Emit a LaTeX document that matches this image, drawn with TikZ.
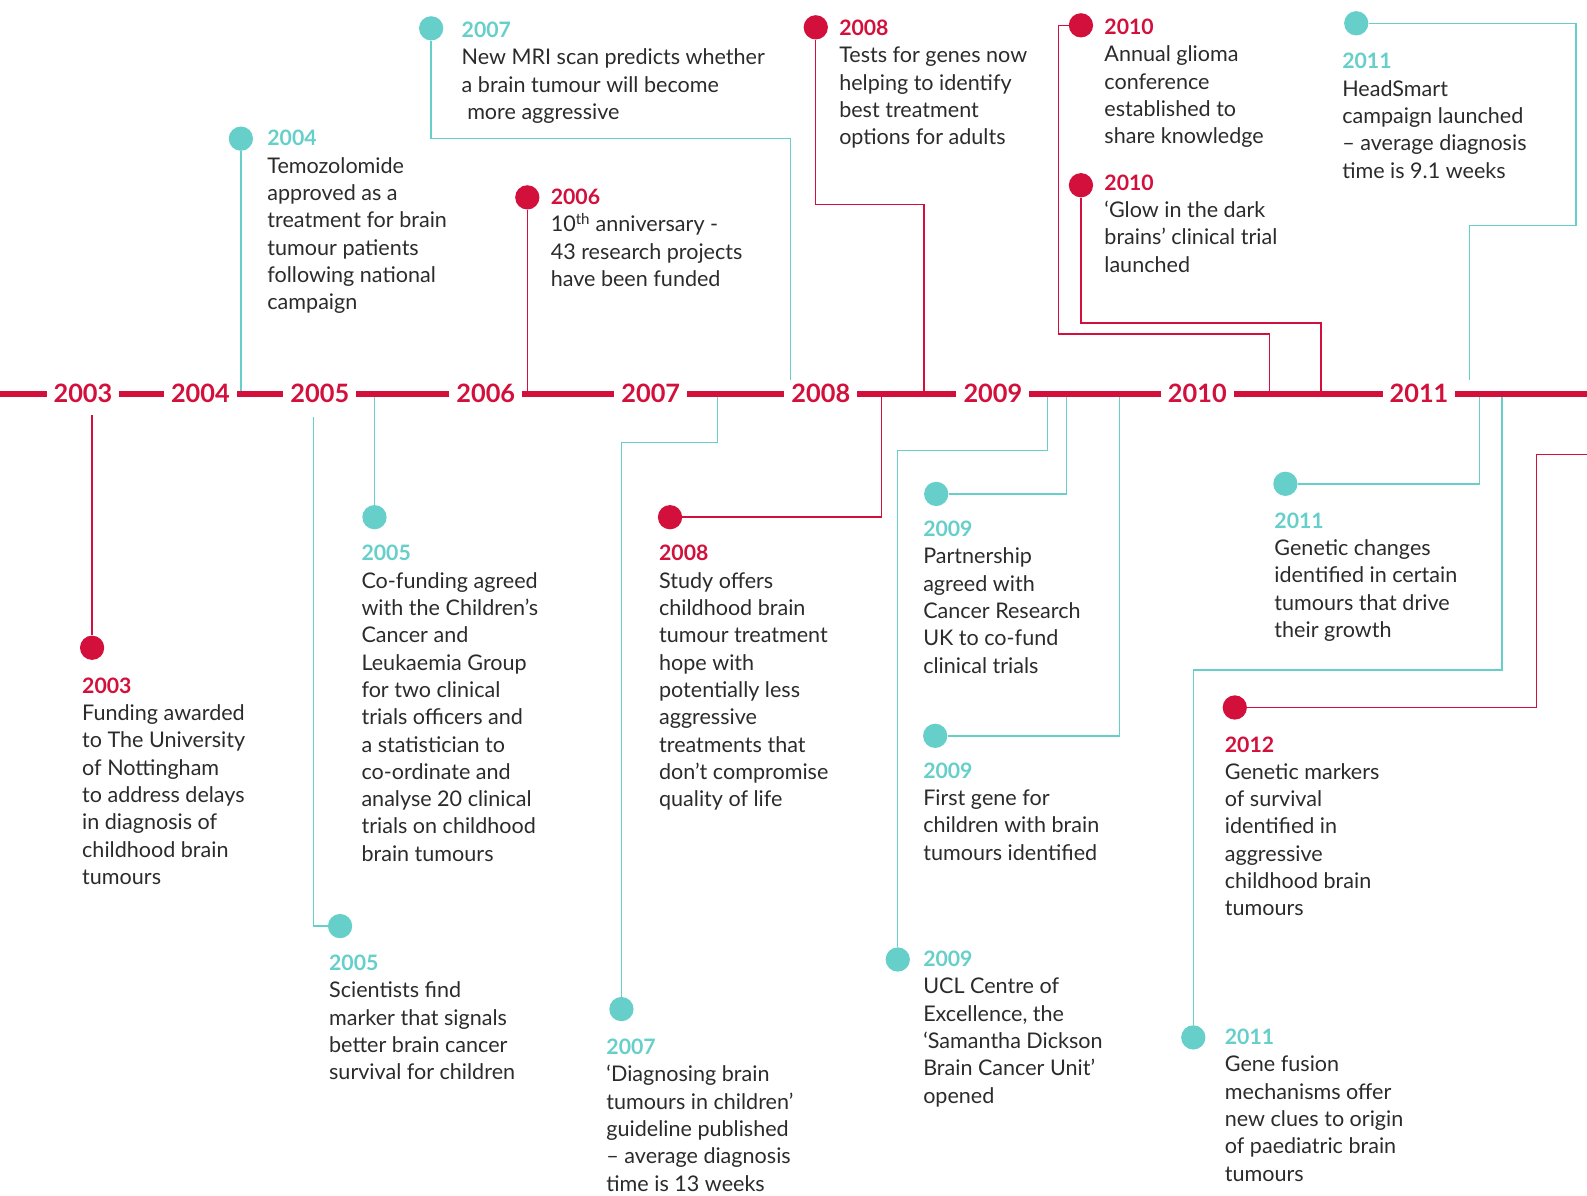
\documentclass[tikz,border=0pt]{standalone}
\usepackage{fontspec}
\setmainfont{Lato}
\definecolor{tred}{HTML}{D2103B}
\definecolor{tteal}{HTML}{66CFCA}
\definecolor{tgrey}{HTML}{2B2B2B}
\newcommand{\evtext}[3]{\parbox[t]{380pt}{\raggedright\textcolor{#1}{\bfseries\fontsize{21}{27}\selectfont #2}\\#3}}

\begin{document}
\begin{tikzpicture}[x=1pt,y=-1pt,
    axis/.style={draw=tred, line width=5.5pt},
    axyear/.style={fill=white, text=tred, font=\fontsize{25}{30}\selectfont\bfseries, inner xsep=7pt, inner ysep=1pt},
    dotred/.style={circle, fill=tred, minimum size=24pt, inner sep=0pt},
    dotteal/.style={circle, fill=tteal, minimum size=24pt, inner sep=0pt},
    linkred/.style={draw=tred, line width=1.4pt},
    linkteal/.style={draw=tteal, line width=1.4pt},
    evt/.style={anchor=base west, inner sep=0pt, text=tgrey, font=\fontsize{21.3}{27}\selectfont}]

    \useasboundingbox (0,0) rectangle (1568,1181);

    % events below the line
    \node[dotred] (m2003) at (91,640) {};
    \node[evt] (t2003) at (81,685) {\evtext{tred}{2003}{Funding awarded\\to The University\\of Nottingham\\to address delays\\in diagnosis of\\childhood brain\\tumours}};
    \node[dotteal] (m2005a) at (370,511) {};
    \node[evt] (t2005a) at (357,554) {\evtext{tteal}{2005}{Co-funding agreed\\with the Children’s\\Cancer and\\Leukaemia Group\\for two clinical\\trials officers and\\a statistician to\\co-ordinate and\\analyse 20 clinical\\trials on childhood\\brain tumours}};
    \node[dotteal] (m2005b) at (336,915) {};
    \node[evt] (t2005b) at (325,959) {\evtext{tteal}{2005}{Scientists find\\marker that signals\\better brain cancer\\survival for children}};
    \node[dotteal] (m2007b) at (614,997) {};
    \node[evt] (t2007b) at (599,1042) {\evtext{tteal}{2007}{‘Diagnosing brain\\tumours in children’\\guideline published\\– average diagnosis\\time is 13 weeks}};
    \node[dotred] (m2008b) at (662,511) {};
    \node[evt] (t2008b) at (651,554) {\evtext{tred}{2008}{Study offers\\childhood brain\\tumour treatment\\hope with\\potentially less\\aggressive\\treatments that\\don’t compromise\\quality of life}};
    \node[dotteal] (m2009p) at (925,488) {};
    \node[evt] (t2009p) at (912,530) {\evtext{tteal}{2009}{Partnership\\agreed with\\Cancer Research\\UK to co-fund\\clinical trials}};
    \node[dotteal] (m2009g) at (924,727) {};
    \node[evt] (t2009g) at (912,769) {\evtext{tteal}{2009}{First gene for\\children with brain\\tumours identified}};
    \node[dotteal] (m2009u) at (887,948) {};
    \node[evt] (t2009u) at (912,955) {\evtext{tteal}{2009}{UCL Centre of\\Excellence, the\\‘Samantha Dickson\\Brain Cancer Unit’\\opened}};
    \node[dotteal] (m2011g) at (1270,478) {};
    \node[evt] (t2011g) at (1259,522) {\evtext{tteal}{2011}{Genetic changes\\identified in certain\\tumours that drive\\their growth}};
    \node[dotred] (m2012) at (1220,699) {};
    \node[evt] (t2012) at (1210,743) {\evtext{tred}{2012}{Genetic markers\\of survival\\identified in\\aggressive\\childhood brain\\tumours}};
    \node[dotteal] (m2011f) at (1179,1025) {};
    \node[evt] (t2011f) at (1210,1032) {\evtext{tteal}{2011}{Gene fusion\\mechanisms offer\\new clues to origin\\of paediatric brain\\tumours}};

    % events above the line
    \node[dotteal] (m2004) at (238,137) {};
    \node[evt] (t2004) at (264,144) {\evtext{tteal}{2004}{Temozolomide\\approved as a\\treatment for brain\\tumour patients\\following national\\campaign}};
    \node[dotred] (m2006) at (521,195) {};
    \node[evt] (t2006) at (544,202) {\evtext{tred}{2006}{10\textsuperscript{th} anniversary -\\43 research projects\\have been funded}};
    \node[dotteal] (m2007a) at (426,28) {};
    \node[evt] (t2007a) at (456,37) {\evtext{tteal}{2007}{New MRI scan predicts whether\\a brain tumour will become\\\ more aggressive}};
    \node[dotred] (m2008a) at (806,27) {};
    \node[evt] (t2008a) at (829,35) {\evtext{tred}{2008}{Tests for genes now\\helping to identify\\best treatment\\options for adults}};
    \node[dotred] (m2010a) at (1068,25) {};
    \node[evt] (t2010a) at (1091,34) {\evtext{tred}{2010}{Annual glioma\\conference\\established to\\share knowledge}};
    \node[dotred] (m2010b) at (1068,183) {};
    \node[evt] (t2010b) at (1091,188) {\evtext{tred}{2010}{‘Glow in the dark\\brains’ clinical trial\\launched}};
    \node[dotteal] (m2011h) at (1340,23) {};
    \node[evt] (t2011h) at (1326,68) {\evtext{tteal}{2011}{HeadSmart\\campaign launched\\– average diagnosis\\time is 9.1 weeks}};

    % where the links meet the line
    \coordinate (a2003) at (91,410);
    \coordinate (a2004) at (238,389);
    \coordinate (a2005a) at (370,389);
    \coordinate (a2005b) at (310,412);
    \coordinate (a2006) at (521,389);
    \coordinate (a2007a) at (781,375);
    \coordinate (a2007b) at (709,392);
    \coordinate (a2008a) at (913,389);
    \coordinate (a2008b) at (871,392);
    \coordinate (a2009u) at (1035,392);
    \coordinate (a2009p) at (1054,392);
    \coordinate (a2009g) at (1106,392);
    \coordinate (a2010a) at (1254,389);
    \coordinate (a2010b) at (1305,389);
    \coordinate (a2011h) at (1452,375);
    \coordinate (a2011g) at (1462,392);
    \coordinate (a2011f) at (1484,392);
    \coordinate (a2012) at (1568,449);

    \draw[linkred] (a2003) -- (m2003);
    \draw[linkteal] (m2004) -- (a2004);
    \draw[linkteal] (a2005a) -- (m2005a);
    \draw[linkteal] (a2005b) |- (m2005b);
    \draw[linkred] (m2006) -- (a2006);
    \draw[linkteal] (m2007a) -- ++(0,109) -| (a2007a);
    \draw[linkteal] (a2007b) -- ++(0,45) -| (m2007b);
    \draw[linkred] (m2008a) -- ++(0,175) -| (a2008a);
    \draw[linkred] (a2008b) |- (m2008b);
    \draw[linkteal] (a2009u) -- ++(0,53) -| (m2009u);
    \draw[linkteal] (a2009p) |- (m2009p);
    \draw[linkteal] (a2009g) |- (m2009g);
    \draw[linkred] (m2010a) -- ++(-22,0) -- ++(0,305) -| (a2010a);
    \draw[linkred] (m2010b) -- ++(0,136) -| (a2010b);
    \draw[linkteal] (m2011h) -- ++(217,0) -- ++(0,200) -| (a2011h);
    \draw[linkteal] (a2011g) |- (m2011g);
    \draw[linkteal] (a2011f) -- ++(0,270) -| (m2011f);
    \draw[linkred] (a2012) -- ++(-50,0) |- (m2012);

    % the time line
    \coordinate (left) at (0,389);
    \coordinate (right) at (1568,389);
    \draw[axis] (left) -- (right);
    \node[axyear] (y2003) at (82,389) {2003};
    \node[axyear] (y2004) at (198,389) {2004};
    \node[axyear] (y2005) at (316,389) {2005};
    \node[axyear] (y2006) at (480,389) {2006};
    \node[axyear] (y2007) at (643,389) {2007};
    \node[axyear] (y2008) at (811,389) {2008};
    \node[axyear] (y2009) at (981,389) {2009};
    \node[axyear] (y2010) at (1183,389) {2010};
    \node[axyear] (y2011) at (1402,389) {2011};

\end{tikzpicture}
\end{document}
